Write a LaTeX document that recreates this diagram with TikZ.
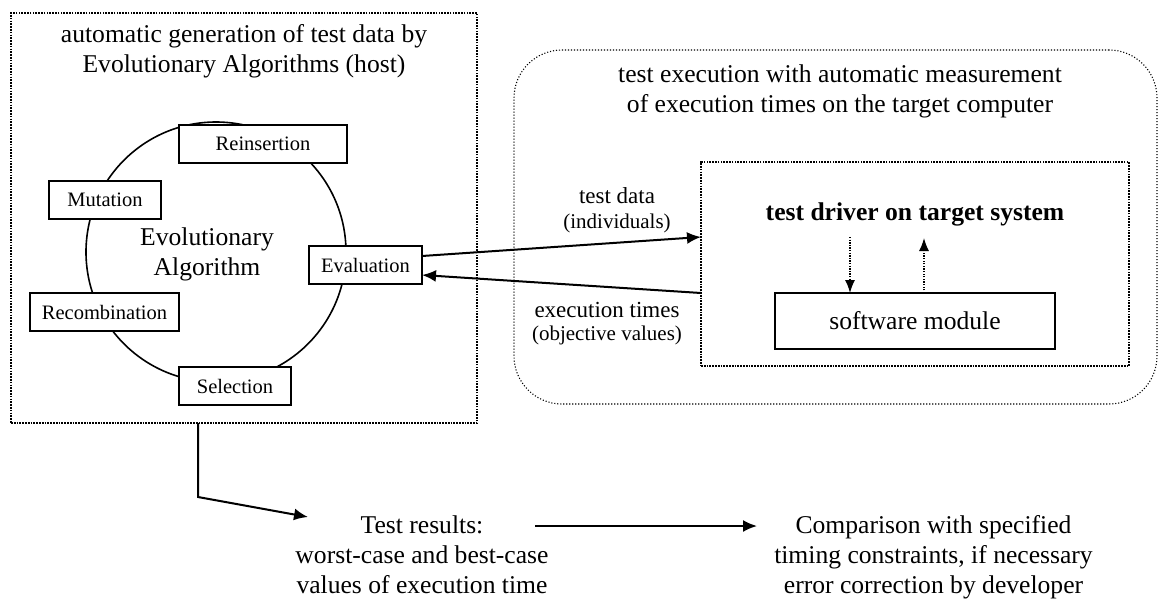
\documentclass[tikz,border=0pt]{standalone}
\usepackage{fontspec}
\setmainfont{Liberation Serif}
\usetikzlibrary{arrows.meta,calc}
\begin{document}
\begin{tikzpicture}[x=1pt,y=-1pt,
  every node/.style={inner sep=0pt, outer sep=0pt},
  bigfont/.style={font=\fontsize{25.6}{30}\selectfont},
  stage/.style={draw, line width=1.7pt, fill=white, minimum height=38pt, font=\fontsize{20.5}{24}\selectfont},
  hostbox/.style={draw, line width=1.9pt, dash pattern=on 1.7pt off 1.1pt},
  roundbox/.style={draw, line width=1.1pt, dash pattern=on 1.1pt off 1.9pt, rounded corners=48pt},
  solidbox/.style={draw, line width=1.7pt},
  arr/.style={line width=2pt, -{Latex[length=14pt,width=12pt]}},
  darr/.style={line width=1.4pt, dash pattern=on 1.3pt off 1.3pt, -{Latex[length=13pt,width=10pt]}},
]
\useasboundingbox (0,0) rectangle (1160,598);

% containers
\node[hostbox, minimum width=466pt, minimum height=410pt] (host) at (244,218) {};
\node[roundbox, minimum width=643pt, minimum height=354pt] (target) at (835.5,227) {};
\node[hostbox, minimum width=428pt, minimum height=204pt] (driver) at (915,264) {};

% titles (base anchor = baseline of the last line)
\node[bigfont, align=center, anchor=base] (hosttitle) at (244,72) {automatic generation of test data by\\Evolutionary Algorithms (host)};
\node[bigfont, align=center, anchor=base] (targettitle) at (840,112) {test execution with automatic measurement\\of execution times on the target computer};

% evolutionary cycle
\draw[line width=1.6pt] (216,252) circle[radius=130pt];
\node[bigfont, align=center, anchor=base] (ea) at (207,275) {Evolutionary\\Algorithm};
\node[stage, minimum width=168pt] (reins) at (263,144) {Reinsertion};
\node[stage, minimum width=112pt] (mut) at (105,200) {Mutation};
\node[stage, minimum width=113pt] (eval) at (365.5,265) {Evaluation};
\node[stage, minimum width=149pt] (recomb) at (104.5,312) {Recombination};
\node[stage, minimum width=112pt] (sel) at (235,386) {Selection};

% target system
\node[font=\fontsize{25.6}{30}\selectfont\bfseries, anchor=base] (drvlabel) at (915,220) {test driver on target system};
\node[solidbox, bigfont, minimum width=280pt, minimum height=56pt] (sw) at (915,321) {software module};
\coordinate (d1) at (850,237);
\coordinate (u1) at (924,238);
\draw[darr] (d1) -- (sw.north -| d1);
\draw[darr] (sw.north -| u1) -- (u1);

% data exchange
\draw[arr] ([yshift=9pt]eval.east) -- ([yshift=27pt]driver.west);
\draw[arr] ([yshift=-29pt]driver.west) -- ([yshift=-10pt]eval.east);
\node[align=center, anchor=base, font=\fontsize{23}{25}\selectfont] (tdlabel) at (617,228) {test data\\{\fontsize{21}{25}\selectfont (individuals)}};
\node[align=center, anchor=base, font=\fontsize{23}{23}\selectfont] (etlabel) at (607,340) {execution times\\{\fontsize{21}{23}\selectfont (objective values)}};

% results
\node[bigfont, align=center, anchor=base] (results) at (422,593) {Test results:\\worst-case and best-case\\values of execution time};
\node[bigfont, align=center, anchor=base] (compare) at (933.5,593) {Comparison with specified\\timing constraints, if necessary\\error correction by developer};
\coordinate (bend) at (198,497);
\coordinate (rtip) at (308,517);
\draw[arr] (host.south -| bend) -- (bend) -- (rtip);
\coordinate (h1) at (535,526);
\coordinate (h2) at (757,526);
\draw[arr] (h1) -- (h2);
\end{tikzpicture}
\end{document}
